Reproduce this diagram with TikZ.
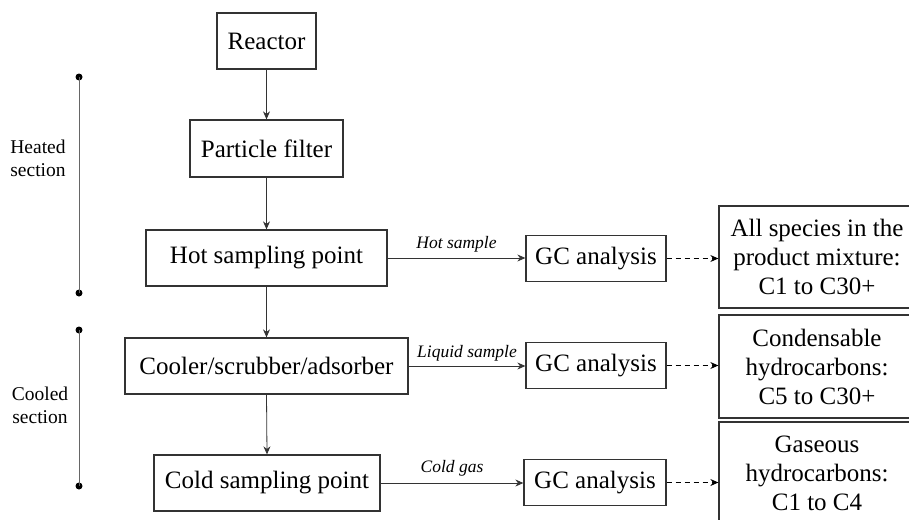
\documentclass[tikz,border=0pt]{standalone}
\usepackage{fontspec}
\setmainfont{Liberation Serif}
\usetikzlibrary{arrows.meta}
\definecolor{boxline}{HTML}{333333}
\definecolor{bracketline}{HTML}{666666}
\begin{document}
\begin{tikzpicture}[x=1pt,y=-1pt,
  box/.style={draw=boxline,line width=1.3pt,rectangle,inner sep=0pt,
    font=\fontsize{25}{29}\selectfont,align=center},
  flow/.style={draw=boxline,line width=0.8pt,-{Stealth[length=8pt,width=7pt]}},
  dflow/.style={draw=black,line width=1pt,dash pattern=on 5pt off 4pt,-{Stealth[length=8pt,width=7pt]}},
  lbl/.style={font=\fontsize{17.5}{19}\selectfont\itshape,inner sep=2pt},
  side/.style={font=\fontsize{19.5}{23}\selectfont,align=center},
  brk/.style={draw=bracketline,line width=1pt},
  dotc/.style={fill=black,circle,inner sep=0pt,minimum size=7pt}]
\useasboundingbox (0,0) rectangle (909,519);
\begin{scope}
\clip (0,0) rectangle (909,519);
% main column
\node[box,minimum width=99pt,minimum height=56pt] (reactor) at (266.5,41) {Reactor};
\node[box,minimum width=153pt,minimum height=57pt] (pf) at (266.5,148.5) {Particle filter};
\node[box,minimum width=241pt,minimum height=56pt] (hot) at (266.5,258) {Hot sampling point};
\node[box,minimum width=283pt,minimum height=56pt] (cool) at (266.5,366) {Cooler/scrubber/adsorber};
\node[box,minimum width=226pt,minimum height=56pt] (cold) at (267,483) {Cold sampling point};
% GC boxes
\node[box,minimum width=140pt,minimum height=46pt] (gc1) at (596,258.5) {GC analysis};
\node[box,minimum width=140pt,minimum height=46pt] (gc2) at (596,365.5) {GC analysis};
\node[box,minimum width=142pt,minimum height=46pt] (gc3) at (595,482.5) {GC analysis};
% result boxes
\node[box,minimum width=196pt,minimum height=102pt] (r1) at (817,257) {All species in the\\product mixture:\\C1 to C30+};
\node[box,minimum width=196pt,minimum height=103pt] (r2) at (817,366.5) {Condensable\\hydrocarbons:\\C5 to C30+};
\node[box,minimum width=196pt,minimum height=103pt] (r3) at (817,473.5) {Gaseous\\hydrocarbons:\\C1 to C4};
\end{scope}
% vertical flow
\draw[flow] (reactor.south) -- (pf.north);
\draw[flow] (pf.south) -- (hot.north);
\draw[flow] (hot.south) -- (cool.north);
\draw[flow] (cool.south) -- (cold.north);
% sample arrows
\draw[flow] (hot.east) -- node[lbl,midway,above,yshift=3pt] {Hot sample} (hot.east -| gc1.west);
\draw[flow] (cool.east) -- node[lbl,midway,above,yshift=2pt] {Liquid sample} (cool.east -| gc2.west);
\draw[flow] (cold.east) -- node[lbl,midway,above,yshift=4pt] {Cold gas} (cold.east -| gc3.west);
% dashed
\draw[dflow] (gc1.east) -- (gc1.east -| r1.west);
\draw[dflow] (gc2.east) -- (gc2.east -| r2.west);
\draw[dflow] (gc3.east) -- (gc3.east -| r3.west);
% section brackets
\node[dotc] (h1) at (79,77) {};
\node[dotc] (h2) at (79,293) {};
\node[dotc] (c1) at (79,330) {};
\node[dotc] (c2) at (79,486) {};
\draw[brk] (h1.center) -- (h2.center);
\draw[brk] (c1.center) -- (c2.center);
\node[side] (heated) at (38,158) {Heated\\section};
\node[side] (cooled) at (40,405) {Cooled\\section};
\end{tikzpicture}
\end{document}
